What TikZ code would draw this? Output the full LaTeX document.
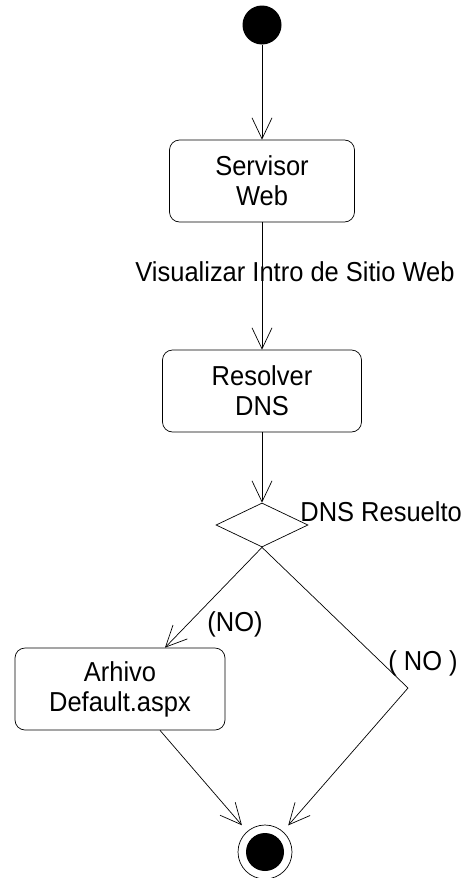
\documentclass[tikz,border=0pt]{standalone}
\usepackage{fontspec}
\setmainfont[FakeStretch=0.93]{Liberation Sans}
\usetikzlibrary{positioning, arrows.meta, shapes.geometric}

\begin{document}
\begin{tikzpicture}[
      x=1pt, y=-1pt,
      line width=0.7pt,
      >={Straight Barb[length=21pt,width=20pt]},
      state/.style={draw, rectangle, rounded corners=10pt, align=center, inner sep=0pt, minimum height=82pt, font=\fontsize{27.4}{30}\selectfont},
      lbl/.style={inner sep=0pt, font=\fontsize{27.4}{30}\selectfont}
    ]
    \useasboundingbox (0,0) rectangle (468,878);
    \node (ini) [circle, fill, minimum size=39pt, inner sep=0pt] at (262,25) {};
    \node (web) [state, minimum width=185pt] at (262,181) {Servisor\\Web};
    \node (dns) [state, minimum width=199pt] at (262,391) {Resolver\\DNS};
    \node (dec) [diamond, draw, minimum width=92pt, minimum height=44pt, inner sep=0pt] at (262,525) {};
    \node (arh) [state, minimum width=210pt] at (120,689) {Arhivo\\Default.aspx};
    \node (fin) [circle, draw, minimum size=54pt, inner sep=0pt] at (265,852) {};
    \node (finin) [circle, fill, minimum size=38pt, inner sep=0pt] at (fin) {};
    \coordinate (bend) at (408,688);

    \node (visu) [lbl] at (295,272) {Visualizar Intro de Sitio Web};
    \node (res) [lbl, anchor=west] at (300,512) {DNS Resuelto};
    \node (no1) [lbl] at (235,624) {(NO)};
    \node (no2) [lbl] at (423,663) {( NO )};

    \draw[->] (ini) -- (web);
    \draw[->] (web) -- (dns);
    \draw[->] (dns) -- (dec);
    \draw[->] (dec.south) -- ([xshift=45pt]arh.north);
    \draw[->, shorten >=8pt] (dec.south) -- (bend) -- (fin);
    \draw[->, shorten >=8pt] ([xshift=40pt]arh.south) -- (fin);
  \end{tikzpicture}
\end{document}
